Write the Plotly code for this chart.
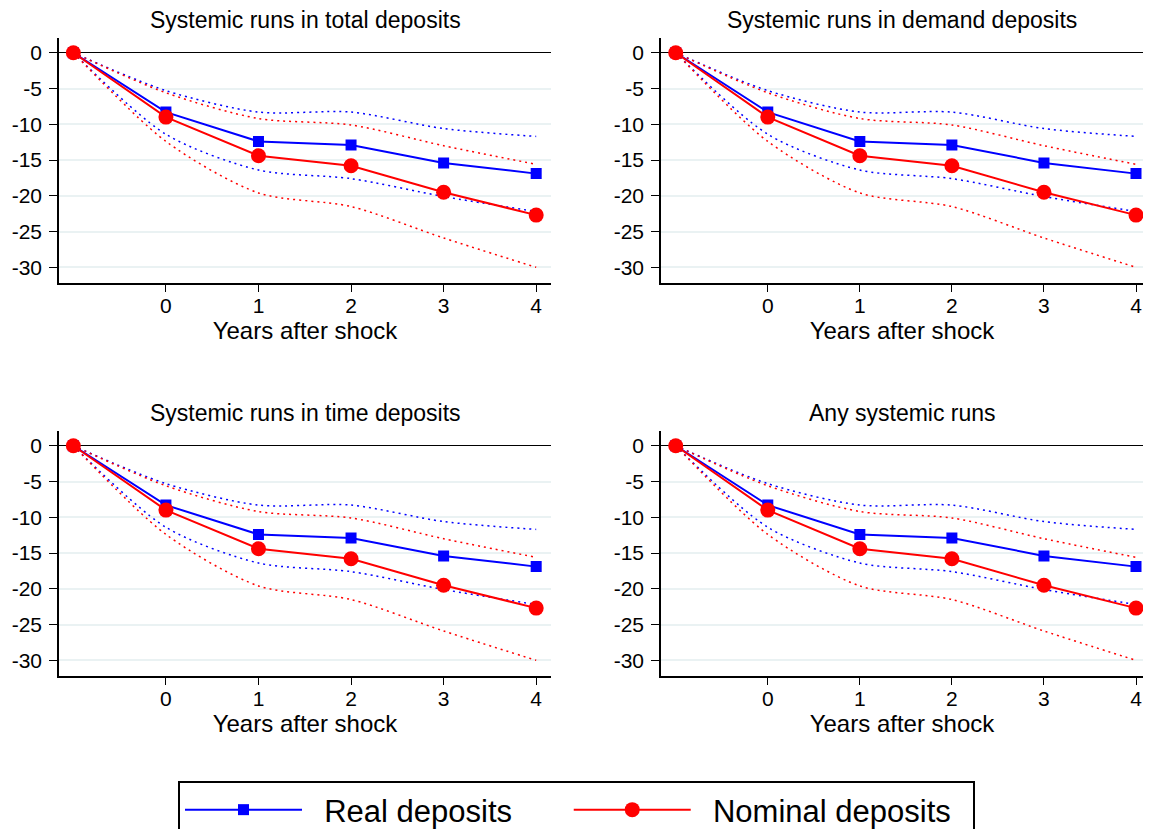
import plotly.graph_objects as go
from plotly.subplots import make_subplots

# Data (same estimates shown in every panel)
years = [-1, 0, 1, 2, 3, 4]
real = [0, -8.3, -12.4, -12.9, -15.4, -16.9]
real_hi = [0, -5.3, -8.3, -8.3, -10.6, -11.7]
real_lo = [0, -11.4, -16.4, -17.6, -20.1, -22.2]
nominal = [0, -9.0, -14.4, -15.8, -19.5, -22.7]
nominal_hi = [0, -5.6, -9.2, -10.1, -13.0, -15.6]
nominal_lo = [0, -12.4, -19.6, -21.5, -25.9, -30.0]

panel_titles = ["Systemic runs in total deposits", "Systemic runs in demand deposits",
                "Systemic runs in time deposits", "Any systemic runs"]
x_ticks = [0, 1, 2, 3, 4]
y_ticks = [0, -5, -10, -15, -20, -25, -30]
y_ticktext = ["0", "-5", "-10", "-15", "-20", "-25", "-30"]

BLUE = "#0000ff"
RED = "#ff0000"
FONT = "Liberation Sans, Arial, sans-serif"
NB = "\u00a0"

W, H = 1135, 821  # page has an 8px body margin, keep it free of scrollbars

fig = make_subplots(rows=2, cols=2)

for i in range(4):
    r, c = i // 2 + 1, i % 2 + 1
    first = i == 0
    # confidence bands (dotted, smoothed)
    for band, col in [(real_hi, BLUE), (real_lo, BLUE), (nominal_hi, RED), (nominal_lo, RED)]:
        fig.add_trace(go.Scatter(x=years, y=band, mode="lines", showlegend=False, hoverinfo="skip",
                                 line=dict(color=col, width=1.5, dash="2px,4px", shape="spline", smoothing=0.8)),
                      row=r, col=c)
    fig.add_trace(go.Scatter(x=years, y=real, mode="lines+markers",
                             name=NB * 2 + "Real deposits" + NB * 6,
                             showlegend=first, legendrank=1,
                             line=dict(color=BLUE, width=2),
                             marker=dict(symbol="square", size=11, color=BLUE)), row=r, col=c)
    fig.add_trace(go.Scatter(x=years, y=nominal, mode="lines+markers",
                             name=NB * 2 + "Nominal deposits" + NB * 2,
                             showlegend=first, legendrank=2,
                             line=dict(color=RED, width=2),
                             marker=dict(symbol="circle", size=15, color=RED)), row=r, col=c)

# panel geometry (in paper fractions)
x_doms = [[51 / W, 543 / W], [653 / W, 1.0]]
x_ranges = [[-1.155, 4.16], [-1.16, 4.076]]
y_doms = [[1 - 274.7 / H, 1 - 30 / H], [1 - 667.7 / H, 1 - 423 / H]]

axis_font = dict(family=FONT, size=21, color="black")
for i in range(4):
    r, c = i // 2, i % 2
    n = "" if i == 0 else str(i + 1)
    fig.layout["xaxis" + n].update(
        domain=x_doms[c], range=x_ranges[c], tickvals=x_ticks, ticks="outside", ticklen=8,
        tickwidth=1.3, tickcolor="black", showline=True, linecolor="black", linewidth=1.5,
        showgrid=False, zeroline=False, tickfont=axis_font, ticklabelstandoff=-5,
        title=dict(text="Years after shock", font=dict(family=FONT, size=24, color="black"), standoff=0))
    fig.layout["yaxis" + n].update(
        domain=y_doms[r], range=[-32.15, 2.06], tickvals=y_ticks, ticktext=y_ticktext,
        ticks="outside", ticklen=8, ticklabelstandoff=3,
        tickwidth=1.3, tickcolor="black", showline=True, linecolor="black", linewidth=1.5,
        showgrid=True, gridcolor="#eaf2f3", gridwidth=2, zeroline=True, zerolinecolor="black",
        zerolinewidth=1.3, tickfont=axis_font)
    fig.add_annotation(text=panel_titles[i], xref="paper", yref="paper",
                       x=sum(x_doms[c]) / 2, y=y_doms[r][1] + 3 / H, xanchor="center", yanchor="bottom",
                       showarrow=False, font=dict(family=FONT, size=23, color="black"))

fig.update_layout(
    width=W, height=H,
    margin=dict(l=0, r=0, t=0, b=0, autoexpand=False),
    plot_bgcolor="white", paper_bgcolor="white",
    showlegend=True,
    legend=dict(orientation="h", x=170 / W, xanchor="left", y=1 - 773 / H, yanchor="top",
                font=dict(family=FONT, size=31, color="black"),
                bordercolor="black", borderwidth=2,
                itemwidth=117, itemsizing="trace"),
)

fig.write_html("out.html")
